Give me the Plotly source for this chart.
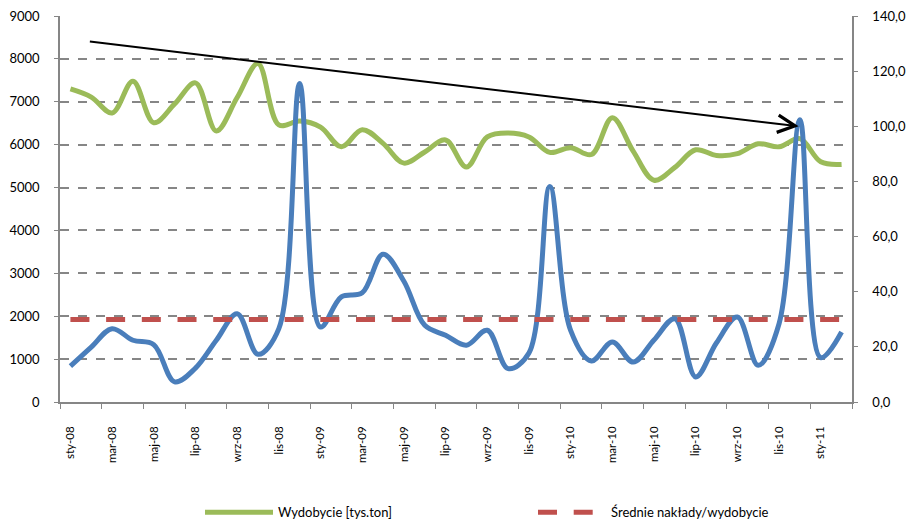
import plotly.graph_objects as go

# Monthly categories, Jan 2008 - Feb 2011
categories = [
    "sty-08", "lut-08", "mar-08", "kwi-08", "maj-08", "cze-08", "lip-08", "sie-08",
    "wrz-08", "paź-08", "lis-08", "gru-08",
    "sty-09", "lut-09", "mar-09", "kwi-09", "maj-09", "cze-09", "lip-09", "sie-09",
    "wrz-09", "paź-09", "lis-09", "gru-09",
    "sty-10", "lut-10", "mar-10", "kwi-10", "maj-10", "cze-10", "lip-10", "sie-10",
    "wrz-10", "paź-10", "lis-10", "gru-10",
    "sty-11", "lut-11",
]

# Coal output [thousand tonnes] - left axis
wydobycie = [7300, 7110, 6740, 7480, 6510, 6950, 7440, 6320, 7100, 7890,
             6460, 6550, 6410, 5950, 6350, 6030, 5570, 5830, 6110, 5480,
             6180, 6270, 6180, 5820, 5930, 5770, 6630, 5850, 5170, 5470,
             5880, 5750, 5790, 6020, 5950, 6140, 5600, 5540]

# Expenditure per output - right axis
naklady = [13.0, 19.9, 26.6, 22.4, 20.8, 7.3, 12.3, 22.4, 32.0, 17.3,
           26.6, 115.5, 27.2, 38.1, 39.6, 53.6, 43.8, 27.8, 24.2, 20.6,
           26.0, 12.1, 17.8, 78.2, 26.0, 14.9, 21.8, 14.5, 22.5, 30.2,
           9.1, 21.5, 30.8, 13.3, 28.4, 102.4, 16.1, 25.4]

# Average expenditure per output - right axis
srednie = 29.9
srednie_line = [srednie] * len(categories)

# Trend arrow (x as category index, y on right axis)
trend_start = (0.86, 130.8)
trend_end = (34.94, 100.0)

x_idx = list(range(len(categories)))
label_idx = x_idx[::2]
label_txt = categories[::2]
boundaries = [i - 0.5 for i in range(0, len(categories) + 1, 2)]

GREEN = "#9BBB59"
BLUE = "#4A7EBB"
RED = "#C0504D"
GRID = "#868686"
FONT = "Lato"

fig = go.Figure()

fig.add_trace(go.Scatter(
    x=x_idx, y=wydobycie, name="Wydobycie [tys.ton]", mode="lines",
    line=dict(color=GREEN, width=5, shape="spline", smoothing=1.0),
    yaxis="y", legend="legend",
))
fig.add_trace(go.Scatter(
    x=x_idx, y=naklady, name="Nakłady/wydobycie", mode="lines",
    line=dict(color=BLUE, width=5, shape="spline", smoothing=1.0),
    yaxis="y2", showlegend=False,
))
fig.add_trace(go.Scatter(
    x=x_idx, y=srednie_line, name="Średnie nakłady/wydobycie", mode="lines",
    line=dict(color=RED, width=5, dash="19px,16.7px"),
    yaxis="y2", legend="legend2",
))

fig.add_annotation(
    x=trend_end[0], y=trend_end[1], xref="x", yref="y2",
    ax=trend_start[0], ay=trend_start[1], axref="x", ayref="y2",
    text="", showarrow=True, arrowhead=5, arrowsize=1.7, arrowwidth=2,
    arrowcolor="black", standoff=0, startstandoff=0,
)

legend_style = dict(
    orientation="h", xanchor="left", y=-0.286, yanchor="middle",
    font=dict(family=FONT, size=13, color="#000000"),
    bgcolor="rgba(0,0,0,0)", itemwidth=68,
)

fig.update_layout(
    width=908, height=527,
    margin=dict(l=60, r=56, t=16, b=125, autoexpand=False),
    paper_bgcolor="white", plot_bgcolor="white",
    separators=", ",
    font=dict(family=FONT, color="#000000"),
    showlegend=True,
    legend=dict(x=(200 - 60) / 792, **legend_style),
    legend2=dict(x=(533 - 60) / 792, **legend_style),
    xaxis=dict(
        range=[-0.5, len(categories) - 0.5],
        tickmode="array", tickvals=label_idx, ticktext=label_txt,
        tickangle=-90, ticks="", ticklabelstandoff=18,
        tickfont=dict(family=FONT, size=11.5, color="#000000"),
        showline=True, linecolor=GRID, linewidth=1.5,
        showgrid=False, zeroline=False, automargin=False,
        minor=dict(tickmode="array", tickvals=boundaries, ticks="outside",
                   ticklen=5, tickcolor=GRID, tickwidth=1.2, showgrid=False),
    ),
    yaxis=dict(
        range=[0, 9000], tickmode="linear", tick0=0, dtick=1000,
        showgrid=True, gridcolor=GRID, gridwidth=1.5, griddash="9px,9px",
        showline=True, linecolor=GRID, linewidth=1.5,
        ticks="outside", ticklen=4, tickcolor=GRID,
        ticklabelstandoff=12, automargin=False,
        tickfont=dict(family=FONT, size=13, color="#000000"),
        zeroline=False,
    ),
    yaxis2=dict(
        range=[0, 140], tickmode="linear", tick0=0, dtick=20,
        tickformat=".1f", overlaying="y", side="right",
        showgrid=False, showline=True, linecolor=GRID, linewidth=1.5,
        ticks="outside", ticklen=4, tickcolor=GRID,
        ticklabelstandoff=12, automargin=False,
        tickfont=dict(family=FONT, size=13, color="#000000"),
        zeroline=False,
    ),
)

fig.write_html("out.html")
